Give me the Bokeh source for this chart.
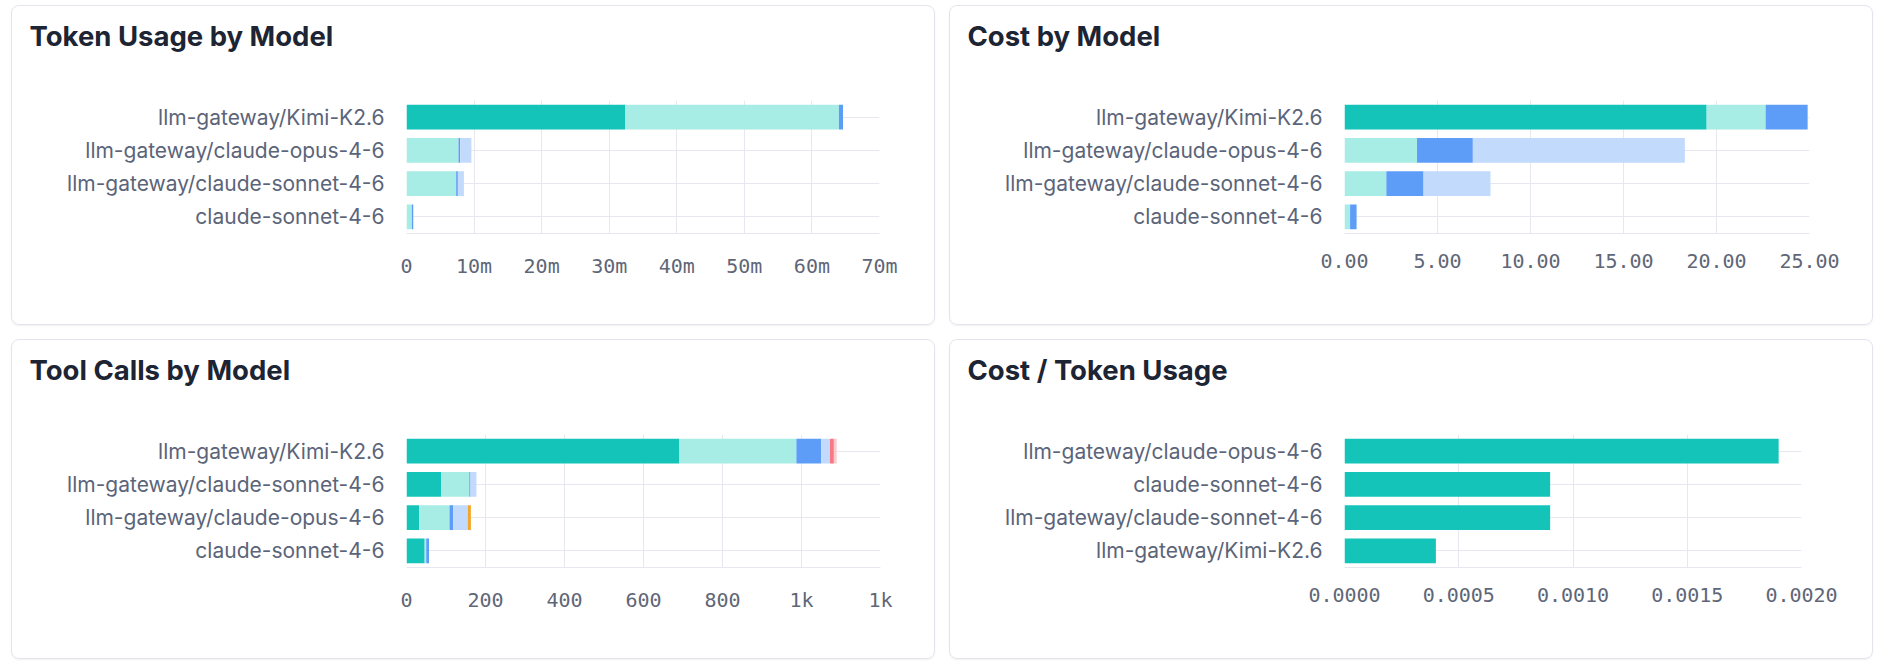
from bokeh.plotting import figure
from bokeh.layouts import column, row
from bokeh.models import (ColumnDataSource, Range1d, FactorRange, FixedTicker,
                          CustomJSTickFormatter)
from bokeh.embed import file_html
from bokeh.resources import INLINE

# ---------------- data ----------------
TOKEN_MODELS = ["llm-gateway/Kimi-K2.6", "llm-gateway/claude-opus-4-6",
                "llm-gateway/claude-sonnet-4-6", "claude-sonnet-4-6"]
token_input = [32.4e6, 0.0, 0.0, 0.0]
token_output = [31.6e6, 7.7e6, 7.35e6, 0.8e6]
token_cache_read = [0.6e6, 0.25e6, 0.25e6, 0.2e6]
token_cache_write = [0.0, 1.65e6, 0.9e6, 0.0]
TOKEN_TICKS = [0, 10e6, 20e6, 30e6, 40e6, 50e6, 60e6, 70e6]
TOKEN_TICK_LABELS = ["0", "10m", "20m", "30m", "40m", "50m", "60m", "70m"]

COST_MODELS = ["llm-gateway/Kimi-K2.6", "llm-gateway/claude-opus-4-6",
               "llm-gateway/claude-sonnet-4-6", "claude-sonnet-4-6"]
cost_input = [19.47, 0.0, 0.0, 0.0]
cost_output = [3.17, 3.9, 2.25, 0.3]
cost_cache_read = [2.26, 3.0, 2.0, 0.35]
cost_cache_write = [0.0, 11.4, 3.6, 0.0]
COST_TICKS = [0, 5, 10, 15, 20, 25]
COST_TICK_LABELS = ["0.00", "5.00", "10.00", "15.00", "20.00", "25.00"]

TOOL_MODELS = ["llm-gateway/Kimi-K2.6", "llm-gateway/claude-sonnet-4-6",
               "llm-gateway/claude-opus-4-6", "claude-sonnet-4-6"]
tool_a = [691, 88, 32, 46]
tool_b = [296, 71, 77, 4]
tool_c = [63, 3, 9, 7]
tool_d = [22, 15, 37, 0]
tool_e = [0, 0, 8, 0]
tool_f = [10, 0, 0, 0]
tool_g = [7, 0, 0, 0]
TOOL_TICKS = [0, 200, 400, 600, 800, 1000, 1200]
TOOL_TICK_LABELS = ["0", "200", "400", "600", "800", "1k", "1k"]

CPT_MODELS = ["llm-gateway/claude-opus-4-6", "claude-sonnet-4-6",
              "llm-gateway/claude-sonnet-4-6", "llm-gateway/Kimi-K2.6"]
cpt_values = [0.0019, 0.0009, 0.0009, 0.0004]
CPT_TICKS = [0, 0.0005, 0.0010, 0.0015, 0.0020]
CPT_TICK_LABELS = ["0.0000", "0.0005", "0.0010", "0.0015", "0.0020"]

# ---------------- style ----------------
DARK_TEAL = "#15c4b9"
LIGHT_TEAL = "#a7ece5"
BLUE = "#5d9df8"
LIGHT_BLUE = "#c2dbfd"
ORANGE = "#f4a62a"
RED = "#f47a88"
PINK = "#fcc9cd"
GRID = "#e7e8ef"
TITLE_COLOR = "#1d2433"
LABEL_COLOR = "#5b6479"
TICK_COLOR = "#5f6677"

CARD_W, CARD_H = 924, 320

FMT_CODE = """
let best = 0; let bd = Infinity;
for (let i = 0; i < tvals.length; i++) {
  const d = Math.abs(tvals[i] - tick);
  if (d < bd) { bd = d; best = i; }
}
return tlabels[best];
"""


def make_panel(title, models, series, colors, ticks, labels, right):
    p = figure(width=CARD_W, height=CARD_H,
               y_range=FactorRange(factors=list(reversed(models))),
               x_range=Range1d(ticks[0], ticks[-1]),
               output_backend="svg", toolbar_location=None,
               min_border_left=394, min_border_right=right,
               min_border_top=94, min_border_bottom=93,
               border_fill_color=None, outline_line_color=None,
               background_fill_color="white",
               styles={"border": "1px solid #e3e5ec", "border-radius": "8px",
                       "box-shadow": "0 1px 2px rgba(16,24,40,0.06)"})
    # trailing empty line lifts the heading away from the plot frame
    p.title.text = title + "\n"
    p.title.text_font = "Inter"
    p.title.text_font_size = "27.5px"
    p.title.text_font_style = "bold"
    p.title.text_color = TITLE_COLOR
    p.title.text_line_height = 1.2
    p.title.standoff = 14
    p.title.align = "left"
    p.title.offset = 17 - 394

    data = {"model": models}
    names = []
    for i, vals in enumerate(series):
        key = f"s{i}"
        data[key] = vals
        names.append(key)
    src = ColumnDataSource(data)
    p.hbar_stack(names, y="model", height=0.75, color=colors, line_color=None, source=src)

    p.xaxis.ticker = FixedTicker(ticks=ticks)
    p.xaxis.formatter = CustomJSTickFormatter(args=dict(tvals=ticks, tlabels=labels), code=FMT_CODE)
    p.xaxis.axis_line_color = GRID
    p.xaxis.major_tick_line_color = None
    p.xaxis.minor_tick_line_color = None
    p.xaxis.major_tick_out = 0
    p.xaxis.major_label_standoff = 20
    p.xaxis.major_label_text_font = "DejaVu Sans Mono"
    p.xaxis.major_label_text_font_size = "20px"
    p.xaxis.major_label_text_color = TICK_COLOR

    p.yaxis.axis_line_color = None
    p.yaxis.major_tick_line_color = None
    p.yaxis.major_tick_out = 0
    p.yaxis.major_label_standoff = 22
    p.yaxis.major_label_text_font = "Inter"
    p.yaxis.major_label_text_font_size = "21px"
    p.yaxis.major_label_text_color = LABEL_COLOR

    p.xgrid.grid_line_color = GRID
    p.ygrid.grid_line_color = GRID
    p.xgrid.ticker = FixedTicker(ticks=ticks)
    return p


p1 = make_panel("Token Usage by Model", TOKEN_MODELS,
                [token_input, token_output, token_cache_read, token_cache_write],
                [DARK_TEAL, LIGHT_TEAL, BLUE, LIGHT_BLUE], TOKEN_TICKS, TOKEN_TICK_LABELS, 57)
p2 = make_panel("Cost by Model", COST_MODELS,
                [cost_input, cost_output, cost_cache_read, cost_cache_write],
                [DARK_TEAL, LIGHT_TEAL, BLUE, LIGHT_BLUE], COST_TICKS, COST_TICK_LABELS, 65)
p3 = make_panel("Tool Calls by Model", TOOL_MODELS,
                [tool_a, tool_b, tool_c, tool_d, tool_e, tool_f, tool_g],
                [DARK_TEAL, LIGHT_TEAL, BLUE, LIGHT_BLUE, ORANGE, RED, PINK],
                TOOL_TICKS, TOOL_TICK_LABELS, 56)
p4 = make_panel("Cost / Token Usage", CPT_MODELS, [cpt_values], [DARK_TEAL],
                CPT_TICKS, CPT_TICK_LABELS, 73)

layout = column(row(p1, p2, spacing=14), row(p3, p4, spacing=14), spacing=14,
                margin=(5, 0, 0, 11))

open("out.html", "w").write(file_html(layout, INLINE))
